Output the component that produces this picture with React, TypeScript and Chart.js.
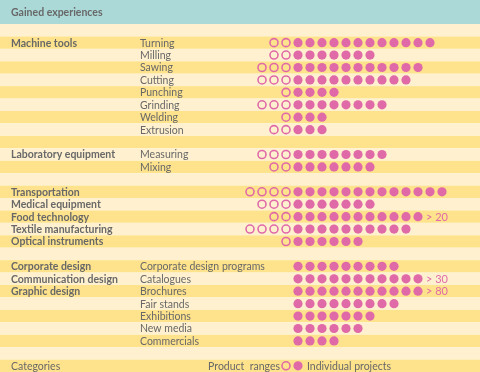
import React, { useEffect, useRef } from "react";
import { Chart, registerables } from "chart.js";

Chart.register(...registerables);

// ---- DATA (one entry per row, top to bottom) ----
const title = "Gained experiences";
const rowCategories = [
  "", "Machine tools", "", "", "", "", "", "", "", "",
  "Laboratory equipment", "", "",
  "Transportation", "Medical equipment", "Food technology", "Textile manufacturing", "Optical instruments", "",
  "Corporate design", "Communication design", "Graphic design", "", "", "", "", "",
];
const rowSubcategories = [
  "", "Turning", "Milling", "Sawing", "Cutting", "Punching", "Grinding", "Welding", "Extrusion", "",
  "Measuring", "Mixing", "",
  "", "", "", "", "", "",
  "Corporate design programs", "Catalogues", "Brochures", "Fair stands", "Exhibitions", "New media", "Commercials", "",
];
const productRanges = [
  0, 2, 2, 3, 3, 1, 3, 1, 2, 0,
  3, 2, 0,
  4, 3, 2, 4, 1, 0,
  0, 0, 0, 0, 0, 0, 0, 0,
];
const individualProjects = [
  0, 12, 7, 11, 10, 4, 8, 3, 3, 0,
  8, 7, 0,
  13, 7, 11, 10, 6, 0,
  9, 11, 11, 9, 7, 6, 4, 0,
];
const overflowNotes = [
  "", "", "", "", "", "", "", "", "", "",
  "", "", "",
  "", "", "> 20", "", "", "",
  "", "> 30", "> 80", "", "", "", "", "",
];
const legendCategoryLabel = "Categories";
const legendRangesLabel = "Product  ranges";
const legendProjectsLabel = "Individual projects";

// ---- STYLE ----
const PINK = "#e06aa8";
const TEXT = "#686868";
const TEAL = "#abd9d8";
const LIGHT = "#fff1d0";
const DARK = "#fee38c";
const FONT = "Lato, 'Liberation Sans', sans-serif";

const W = 480;
const H = 372;
const HEADER_PX = 24;
const TOTAL_ROWS = rowCategories.length + 1; // + legend row
const ROW_PX = (H - HEADER_PX) / TOTAL_ROWS;
const COL_PX = 12;
const FIRST_FILLED_PX = 298;

export default function App() {
  const ref = useRef<HTMLCanvasElement | null>(null);

  useEffect(() => {
    const canvas = ref.current;
    if (!canvas) return;
    const legendRow = rowCategories.length;

    const hollow: { x: number; y: number }[] = [];
    const filled: { x: number; y: number }[] = [];
    productRanges.forEach((n, r) => {
      for (let j = 1; j <= n; j++) hollow.push({ x: -j, y: r + 0.5 });
    });
    individualProjects.forEach((n, r) => {
      for (let i = 0; i < n; i++) filled.push({ x: i, y: r + 0.5 });
    });
    hollow.push({ x: -1, y: legendRow + 0.5 });
    filled.push({ x: 0, y: legendRow + 0.5 });

    const backgroundPlugin = {
      id: "bg",
      beforeDatasetsDraw(chart: any) {
        const { ctx, scales } = chart;
        const y = scales.y;
        ctx.save();
        ctx.fillStyle = TEAL;
        ctx.fillRect(0, 0, W, y.getPixelForValue(0));
        for (let r = 0; r < TOTAL_ROWS; r++) {
          const top = y.getPixelForValue(r);
          const bottom = y.getPixelForValue(r + 1);
          ctx.fillStyle = r % 2 === 0 ? LIGHT : DARK;
          ctx.fillRect(0, top, W, bottom - top);
        }
        ctx.restore();
      },
      afterDatasetsDraw(chart: any) {
        const { ctx, scales } = chart;
        const x = scales.x;
        const y = scales.y;
        ctx.save();
        ctx.textBaseline = "middle";
        ctx.fillStyle = TEXT;
        ctx.font = `bold 10.5px ${FONT}`;
        ctx.fillText(title, 11, y.getPixelForValue(-HEADER_PX / ROW_PX / 2) + 1);
        rowCategories.forEach((c, r) => {
          const cy = y.getPixelForValue(r + 0.5) + 0.5;
          if (c) {
            ctx.font = `bold 10.5px ${FONT}`;
            ctx.fillStyle = TEXT;
            ctx.fillText(c, 11, cy);
          }
          const s = rowSubcategories[r];
          if (s) {
            ctx.font = `10.5px ${FONT}`;
            ctx.fillStyle = TEXT;
            ctx.fillText(s, 140, cy);
          }
          const note = overflowNotes[r];
          if (note) {
            ctx.font = `11px ${FONT}`;
            ctx.fillStyle = PINK;
            ctx.fillText(note, x.getPixelForValue(individualProjects[r] - 1) + 8, cy);
          }
        });
        const ly = y.getPixelForValue(legendRow + 0.5) + 0.5;
        ctx.fillStyle = TEXT;
        ctx.font = `10.5px ${FONT}`;
        ctx.fillText(legendCategoryLabel, 11, ly);
        ctx.textAlign = "right";
        ctx.fillText(legendRangesLabel, x.getPixelForValue(-1) - 6, ly);
        ctx.textAlign = "left";
        ctx.fillText(legendProjectsLabel, x.getPixelForValue(0) + 9, ly);
        ctx.restore();
      },
    };

    const chart = new Chart(canvas, {
      type: "scatter",
      data: {
        datasets: [
          {
            label: legendRangesLabel,
            data: hollow,
            pointRadius: 4,
            pointBorderWidth: 1.6,
            pointBorderColor: PINK,
            pointBackgroundColor: "rgba(0,0,0,0)",
          },
          {
            label: legendProjectsLabel,
            data: filled,
            pointRadius: 4.6,
            pointBorderWidth: 0,
            pointBackgroundColor: PINK,
            pointBorderColor: PINK,
          },
        ],
      },
      options: {
        responsive: false,
        maintainAspectRatio: false,
        animation: false,
        events: [],
        layout: { padding: 0, autoPadding: false },
        plugins: { legend: { display: false }, tooltip: { enabled: false } },
        scales: {
          x: {
            type: "linear",
            display: false,
            min: -FIRST_FILLED_PX / COL_PX,
            max: (W - FIRST_FILLED_PX) / COL_PX,
          },
          y: {
            type: "linear",
            display: false,
            reverse: true,
            min: -HEADER_PX / ROW_PX,
            max: TOTAL_ROWS,
          },
        },
      },
      plugins: [backgroundPlugin],
    });
    return () => chart.destroy();
  }, []);

  return (
    <div style={{ position: "absolute", left: 0, top: 0, width: W, height: H }}>
      <canvas ref={ref} width={W} height={H} style={{ width: W, height: H, display: "block" }} />
    </div>
  );
}
